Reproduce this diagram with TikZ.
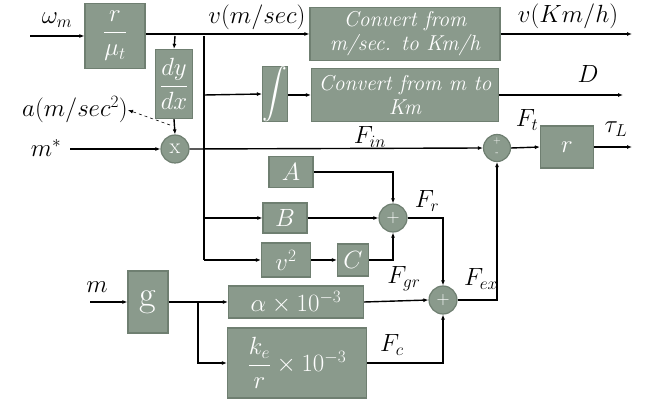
\documentclass[tikz,border=0pt]{standalone}
\usepackage{amsmath}
\usetikzlibrary{arrows.meta}
\definecolor{blkfill}{HTML}{8A9A8C}
\definecolor{blkline}{HTML}{6F7F71}
\tikzset{
  blk/.style={draw=blkline,line width=1.2pt,fill=blkfill,text=white,inner sep=0pt,
    font=\fontsize{24}{27}\selectfont},
  sumc/.style={circle,draw=blkline,line width=1.2pt,fill=blkfill,text=white,inner sep=0pt,
    minimum size=28pt,font=\fontsize{18}{20}\selectfont},
  lbl/.style={font=\fontsize{25}{28}\selectfont,inner sep=0pt},
  conv/.style={blk,align=center,font=\fontsize{21.5}{24}\selectfont\itshape},
  sig/.style={line width=1.4pt,-{Latex[length=5pt,width=4pt]}},
  wire/.style={line width=1.4pt}
}
\begin{document}
\begin{tikzpicture}[x=1pt,y=-1pt]
\useasboundingbox (0,0) rectangle (651,403);

% blocks
\node[blk,minimum width=60pt,minimum height=65pt] (gain) at (115,36) {$\dfrac{r}{\mu_t}$};
\node[blk,minimum width=37pt,minimum height=69pt] (deriv) at (174,84) {$\dfrac{dy}{dx}$};
\node[blk,minimum width=24pt,minimum height=55pt] (integ) at (275,94) {$\displaystyle\int$};
\node[conv,minimum width=190pt,minimum height=53pt] (conva) at (405,34) {Convert from\\ m/sec. to Km/h};
\node[conv,minimum width=187pt,minimum height=53pt] (convb) at (405,95) {Convert from m to\\ Km};
\node[sumc,font=\fontsize{22}{24}\selectfont] (mult) at (175,149) {x};
\node[sumc,minimum size=27pt] (sumt) at (497,148) {};
\node[text=white,font=\fontsize{10}{10}\selectfont] at (497,141) {+};
\node[text=white,font=\fontsize{10}{10}\selectfont] at (497,154) {-};
\node[blk,minimum width=53pt,minimum height=42pt] (rblk) at (567,147) {$r$};
\node[blk,minimum width=44pt,minimum height=31pt] (ablk) at (291,172) {$A$};
\node[blk,minimum width=44pt,minimum height=30pt] (bblk) at (285,218) {$B$};
\node[blk,minimum width=49pt,minimum height=34pt] (vsq) at (286,260) {$v^2$};
\node[blk,minimum width=31pt,minimum height=32pt] (cblk) at (353,260) {$C$};
\node[sumc] (sumr) at (393,218) {+};
\node[sumc] (sumex) at (443,300) {+};
\node[blk,minimum width=40pt,minimum height=62pt,font=\fontsize{36}{38}\selectfont] (gblk) at (148,302) {g};
\node[blk,minimum width=135pt,minimum height=32pt] (alpha) at (296,302) {$\alpha\times10^{-3}$};
\node[blk,minimum width=139pt,minimum height=70pt] (kec) at (297,363) {$\dfrac{k_e}{r}\times10^{-3}$};

% free ends
\coordinate (win) at (30,36);
\coordinate (mstin) at (70,149);
\coordinate (min) at (90,302);
\coordinate (vout) at (632,34);
\coordinate (dout) at (623,95);
\coordinate (tout) at (632,147);
\coordinate (bra) at (175,36);
\coordinate (brv) at (204,36);
\coordinate (brg) at (198,302);

% labels
\node[lbl] (lw) at (57,20) {$\omega_m$};
\node[lbl] (lv) at (257,17) {$v(m/sec)$};
\node[lbl] (lvk) at (568,16) {$v(Km/h)$};
\node[lbl] (ld) at (588,74) {$D$};
\node[lbl] (lacc) at (75,110) {$a(m/sec^2)$};
\node[lbl] (lmst) at (46,148) {$m^*$};
\node[lbl] (lfin) at (370,137) {$F_{in}$};
\node[lbl] (lft) at (527,120) {$F_t$};
\node[lbl] (ltau) at (616,129) {$\tau_L$};
\node[lbl] (lfr) at (427,201) {$F_r$};
\node[lbl] (lfgr) at (404,279) {$F_{gr}$};
\node[lbl] (lfex) at (481,279) {$F_{ex}$};
\node[lbl] (lfc) at (392,345) {$F_c$};
\node[lbl] (lm) at (97,287) {$m$};

% top paths
\draw[sig] (win) -- (gain);
\draw[sig] (gain.east |- vout) -- (conva.west);
\draw[sig] (bra) -- (deriv.north);
\draw[wire] (brv) -- (204,260);
\draw[sig] (204,95) -- (integ.west);
\draw[sig] (integ.east |- convb) -- (convb.west);
\draw[sig] (conva.east) -- (vout);
\draw[sig] (convb.east) -- (dout);
\draw[sig] (deriv.south) -- (mult.north);
\draw[-{Latex[length=5pt,width=4pt]},dashed,line width=0.6pt] (170,125) -- (lacc.east);
\draw[sig] (mstin) -- (mult.west);
\draw[sig] (mult.east) -- (sumt.west);
\draw[sig] (sumt.east) -- (rblk.west);
\draw[sig] (rblk.east) -- (tout);

% resistance forces
\draw[sig] (ablk.east) -| (sumr.north);
\draw[sig] (204,218) -- (bblk.west);
\draw[sig] (bblk.east) -- (sumr.west);
\draw[sig] (204,260) -- (vsq.west);
\draw[sig] (vsq.east) -- (cblk.west);
\draw[sig] (cblk.east) -| (sumr.south);
\draw[sig] (sumr.east) -| (sumex.north);

% gravity branch
\draw[sig] (min) -- (gblk.west);
\draw[sig] (gblk.east) -- (alpha.west);
\draw[sig] (brg) |- (kec.west);
\draw[sig] (alpha.east) -- (sumex.west);
\draw[sig] (kec.east) -| (sumex.south);
\draw[sig] (sumex.east) -| (sumt.south);

\end{tikzpicture}
\end{document}
